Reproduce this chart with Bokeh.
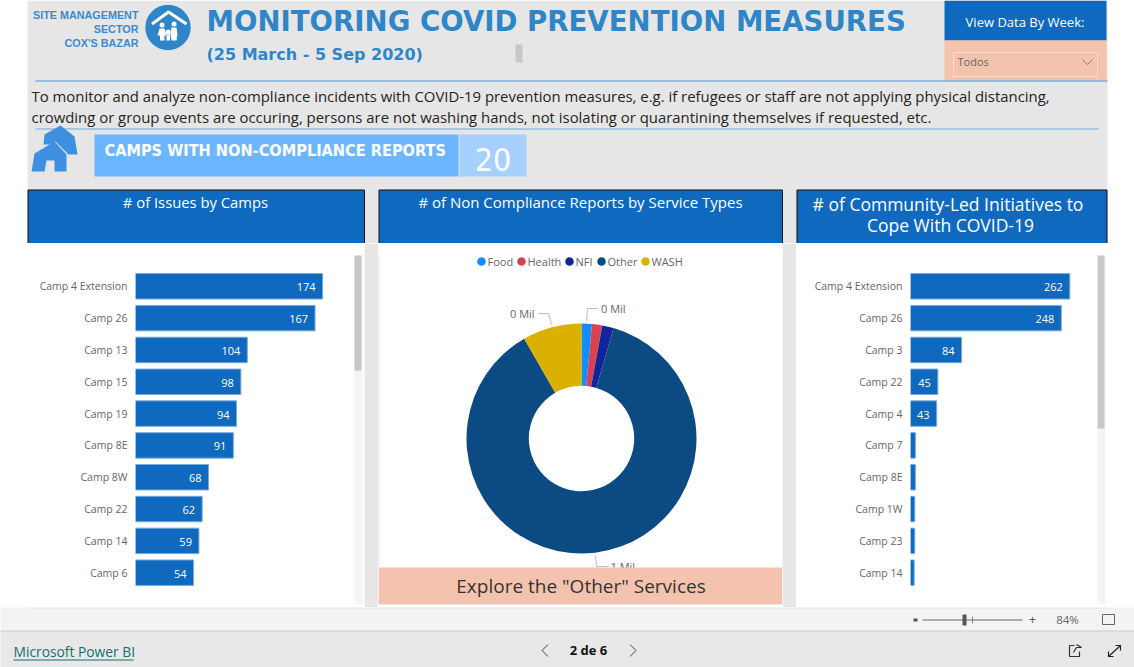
from bokeh.embed import file_html
from bokeh.resources import INLINE
from bokeh.plotting import figure
from bokeh.layouts import column, row
from bokeh.models import Range1d, FactorRange, BoxAnnotation, ColumnDataSource
from bokeh.core.properties import value
import numpy as np

# ---- data -----
camps_issues = ["Camp 4 Extension", "Camp 26", "Camp 13", "Camp 15", "Camp 19", "Camp 8E", "Camp 8W", "Camp 22", "Camp 14", "Camp 6"]
issues = [174, 167, 104, 98, 94, 91, 68, 62, 59, 54]
camps_init = ["Camp 4 Extension", "Camp 26", "Camp 3", "Camp 22", "Camp 4", "Camp 7", "Camp 8E", "Camp 1W", "Camp 23", "Camp 14"]
initiatives = [262, 248, 84, 45, 43, 8, 8, 7, 7, 6]
init_labels = ["262", "248", "84", "45", "43", "", "", "", "", ""]
services = ["Food", "Health", "NFI", "Other", "WASH"]
service_values = [14500, 14500, 16000, 872000, 83000]
service_colors = ["#118DFF", "#D9434F", "#12239E", "#0B4A82", "#DBB100"]

BLUE = "#0E69BF"
GRAY = "#E6E6E6"
PEACH = "#F4C3AE"
TITLE = "#2E86C8"
SANS = "Open Sans"
HEAD = "DejaVu Sans"
COND = "DejaVu Sans Condensed"


def canvas(x0, x1, y0, y1, bg="white", mt=0, mb=0):
    p = figure(width=x1 - x0, height=y1 - y0 + mt + mb, x_range=Range1d(x0, x1), y_range=Range1d(y1, y0),
               x_axis_type=None, y_axis_type=None, toolbar_location=None, output_backend="svg",
               min_border=0, min_border_top=mt, min_border_bottom=mb,
               outline_line_color=None, background_fill_color=bg, border_fill_color=bg)
    p.grid.visible = False
    return p


def box(p, x0, y0, x1, y1, fill, line=None, lw=1):
    p.quad(left=[x0], right=[x1], top=[y0], bottom=[y1], fill_color=fill, line_color=line, line_width=lw)


def txt(p, x, y, s, size, color, font=SANS, align="left", style="normal", baseline="middle"):
    p.text([x], [y], text=[s], text_font=value(font), text_font_size=f"{size}px", text_color=color,
           text_align=align, text_baseline=baseline, text_font_style=style)


def poly(p, pts, fill):
    p.patch([a for a, _ in pts], [b for _, b in pts], fill_color=fill, line_color=None)


def band(left, right, top, bottom, color):
    # screen units here count from the frame's left and bottom edges
    return BoxAnnotation(left=left, right=right, top=top, bottom=bottom, left_units="screen", right_units="screen",
                         top_units="screen", bottom_units="screen", fill_color=color, fill_alpha=1, line_color=None)


# ---- header -----
top = canvas(0, 1134, 0, 243)
box(top, 27, 0, 1107, 243, GRAY)
txt(top, 138, 14, "SITE MANAGEMENT", 10.8, "#3C8ACB", "Liberation Sans", "right", "bold")
txt(top, 138, 28, "SECTOR", 10.8, "#3C8ACB", "Liberation Sans", "right", "bold")
txt(top, 138, 42, "COX'S BAZAR", 10.8, "#3C8ACB", "Liberation Sans", "right", "bold")
top.circle([167.5], [27], radius=22.7, fill_color=TITLE, line_color=None)
top.line([151.5, 168, 186], [23.5, 11.5, 23.5], line_color="white", line_width=3)
top.circle([161.5, 173.5, 167.7], [24.5, 23.5, 31.5], radius=2.5, fill_color="white", line_color=None)
poly(top, [(159, 28), (164, 28), (166, 35), (164, 35), (164, 40), (159.5, 40), (159.5, 35), (157, 35)], "white")
poly(top, [(171, 27), (176, 27), (177, 34), (176, 40), (171, 40), (170, 34)], "white")
poly(top, [(166, 34), (169.5, 34), (169.5, 40), (166, 40)], "white")
txt(top, 206, 21, "MONITORING COVID PREVENTION MEASURES", 27.6, TITLE, HEAD, style="bold")
txt(top, 206, 54, "(25 March - 5 Sep 2020)", 16, TITLE, HEAD, style="bold")
box(top, 515, 44, 522, 62, "#C8C8C8")
box(top, 944, 0, 1106, 40, BLUE)
txt(top, 1024.5, 21.5, "View Data By Week:", 13, "white", align="center")
box(top, 944, 40, 1106, 80, PEACH)
box(top, 953, 52, 1097, 76, PEACH, "#F8DCD0", 1)
txt(top, 957, 60.5, "Todos", 11, "#666666")
top.line([1082, 1087, 1092], [59, 64, 59], line_color="#8A7A72", line_width=1)
top.line([35, 1107], [80.5, 80.5], line_color="#4A98D8", line_width=1)
txt(top, 31, 95.5, "To monitor and analyze non-compliance incidents with COVID-19 prevention measures, e.g. if refugees or staff are not applying physical distancing,", 14.9, "#252423")
txt(top, 31, 116.5, "crowding or group events are occuring, persons are not washing hands, not isolating or quarantining themselves if requested, etc.", 14.9, "#252423")
top.line([35, 1098], [128.5, 128.5], line_color="#6AA8E0", line_width=1)
poly(top, [(31, 171), (34, 153), (54, 141), (66, 154), (66, 171), (54, 171), (54, 160), (46, 160), (44, 171)], "#3F8FE0")
poly(top, [(43, 144), (44, 134), (60, 125), (74, 136), (77, 154), (68, 154), (55, 141), (50, 144)], "#3F8FE0")
box(top, 94, 134, 458, 176, "#6CB6FF")
box(top, 459, 134, 526, 176, "#A5D0FF")
txt(top, 104, 149.5, "CAMPS WITH NON-COMPLIANCE REPORTS", 16.2, "white", COND, style="bold")
txt(top, 492.5, 159, "20", 32, "white", COND, align="center")
box(top, 27.5, 189.5, 364, 243, BLUE, "#111111")
box(top, 378.5, 189.5, 782, 243, BLUE, "#111111")
box(top, 796.5, 189.5, 1106.5, 243, BLUE, "#111111")
txt(top, 195, 201.5, "# of Issues by Camps", 14.8, "white", align="center")
txt(top, 580, 201.5, "# of Non Compliance Reports by Service Types", 15, "white", align="center")
txt(top, 947.5, 203, "# of Community-Led Initiatives to", 17.5, "white", align="center")
txt(top, 950, 224.5, "Cope With COVID-19", 17.5, "white", align="center")


# ---- bar panels -----
def bars(cats, vals, labels, width, left, xmax, thumb):
    p = figure(width=width, height=364, x_range=Range1d(0, xmax),
               y_range=FactorRange(factors=cats[::-1], range_padding=0.5, range_padding_units="absolute"),
               x_axis_type=None, toolbar_location=None, output_backend="svg",
               min_border_left=left, min_border_right=0, min_border_top=11, min_border_bottom=3,
               outline_line_color=None, background_fill_color="white", border_fill_color="white")
    p.grid.visible = False
    ax = p.yaxis[0]
    ax.axis_line_color = None
    ax.major_tick_line_color = None
    ax.minor_tick_line_color = None
    ax.major_tick_out = 0
    ax.minor_tick_out = 0
    ax.major_label_standoff = 8
    ax.major_label_text_font = SANS
    ax.major_label_text_font_size = "10.5px"
    ax.major_label_text_color = "#666666"
    src = ColumnDataSource(dict(y=cats, v=vals, t=labels))
    p.hbar(y="y", left=0, right="v", height=0.8, source=src, fill_color=BLUE, line_color="#7AA9DC", line_width=1)
    p.text(x="v", y="y", text="t", source=src, x_offset=-7, y_offset=1, text_align="right", text_baseline="middle",
           text_color="white", text_font=value(SANS), text_font_size="11px")
    sx = width - left - 10
    p.add_layout(band(sx, sx + 8, 349, 0, "#F4F4F4"))
    p.add_layout(band(sx, sx + 7, 349, thumb, "#C8C8C8"))
    return p


left_bars = bars(camps_issues, issues, [str(v) for v in issues], 337, 108, 213, 234)
right_bars = bars(camps_init, initiatives, init_labels, 311, 114, 324, 176)

# ---- donut -----
don = canvas(378, 782, 254, 604, mt=11, mb=3)
frac = np.array(service_values) / sum(service_values)
edges = np.concatenate([[0], np.cumsum(frac)])
don.annular_wedge(x=581, y=438, inner_radius=52.7, outer_radius=115,
                  start_angle=np.pi / 2 - 2 * np.pi * edges[:-1], end_angle=np.pi / 2 - 2 * np.pi * edges[1:],
                  direction="clock", fill_color=service_colors, line_color=None)
lx = [481, 521, 569, 601, 645]
don.scatter(lx, [261] * 5, size=8.5, marker="circle", fill_color=service_colors, line_color=None)
don.text([x + 6 for x in lx], [261] * 5, text=services, text_font=value(SANS), text_font_size="11px",
         text_color="#666666", text_baseline="middle")
LEAD = "#BDBDBD"
don.line([586, 587, 598], [321, 308, 308], line_color=LEAD)
don.line([538, 548, 551], [313, 313, 324], line_color=LEAD)
don.line([595, 596, 608], [555, 566, 566], line_color=LEAD)
txt(don, 600.5, 308, "0 Mil", 11, "#666666")
txt(don, 509.5, 313, "0 Mil", 11, "#666666")
txt(don, 610, 566, "1 Mil", 11, "#666666")
box(don, 378, 567, 782, 604, PEACH)
txt(don, 580.5, 585, 'Explore the "Other" Services', 19, "#333333", align="center")
don.line([378.5, 378.5], [254, 567], line_color="#E0E0E0")
don.add_layout(band(0, 404, 0, -3, PEACH))

gap1 = canvas(364, 378, 254, 604, GRAY, mt=11, mb=3)
gap2 = canvas(782, 796, 254, 604, GRAY, mt=11, mb=3)
side_l = canvas(0, 27, 254, 604, mt=11, mb=3)
side_r = canvas(1107, 1134, 254, 604, mt=11, mb=3)

# ---- footer -----
foot = canvas(0, 1134, 607, 667, "#F3F3F3")
box(foot, 0, 631, 1134, 667, "#E8E8E8")
foot.line([0, 1134], [630.5, 630.5], line_color="#C8C8C8", line_width=1)
foot.line([27, 1107], [607.5, 607.5], line_color="#E2E2E2", line_width=1)
box(foot, 913, 618, 917, 621, "#555555")
foot.line([922, 1022], [619.5, 619.5], line_color="#666666", line_width=1)
box(foot, 962, 614, 966, 625, "#555555")
foot.line([972, 972], [616, 623], line_color="#888888", line_width=1)
txt(foot, 1032, 619, "+", 13, "#555555", align="center")
txt(foot, 1067, 619, "84%", 11.5, "#666666", align="center")
foot.line([1102, 1102, 1114, 1114, 1102], [614, 624, 624, 614, 614], line_color="#666666", line_width=1)
txt(foot, 13, 650.5, "Microsoft Power BI", 13.8, "#146E6A")
foot.line([13, 133], [659.5, 659.5], line_color="#146E6A", line_width=1)
txt(foot, 588, 649.5, "2 de 6", 13, "#111111", align="center", style="bold")
foot.line([547.5, 541.5, 547.5], [644, 650, 656], line_color="#444444", line_width=1)
foot.line([629.5, 635.5, 629.5], [644, 650, 656], line_color="#444444", line_width=1)
foot.line([1074, 1069, 1069, 1079, 1079], [645, 645, 656, 656, 651], line_color="#333333", line_width=1.2)
foot.line([1073, 1076, 1081, 1076], [652, 647, 647, 644], line_color="#333333", line_width=1.2)
foot.line([1108, 1120], [656, 645], line_color="#222222", line_width=1.2)
foot.line([1108, 1108, 1113], [651, 656, 656], line_color="#222222", line_width=1.2)
foot.line([1115, 1120, 1120], [645, 645, 650], line_color="#222222", line_width=1.2)

page = column(top, row(side_l, left_bars, gap1, don, gap2, right_bars, side_r, spacing=0), foot, spacing=0)

open("out.html", "w").write(file_html(page, INLINE))
